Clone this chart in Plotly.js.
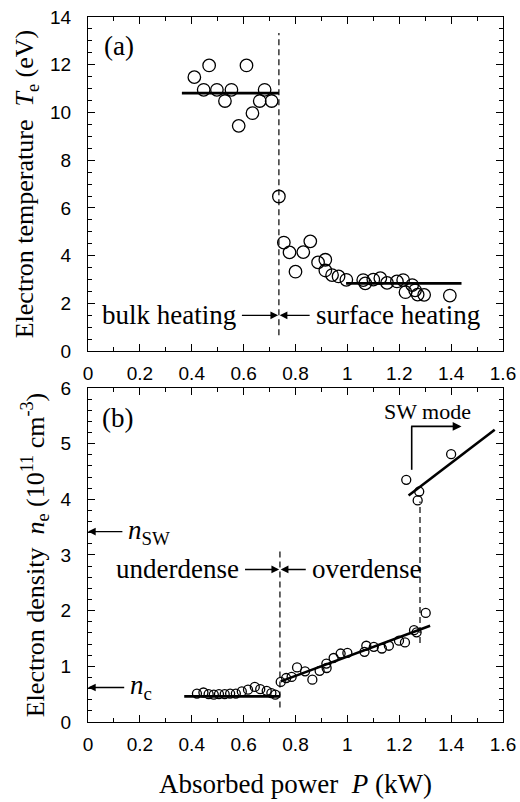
<!DOCTYPE html>
<html>
<head>
<meta charset="utf-8">
<script src="https://cdn.plot.ly/plotly-3.0.1.min.js"></script>
<style>html,body{margin:0;padding:0;background:#fff;}#chart{width:520px;height:802px;}</style>
</head>
<body>
<div id="chart"></div>
<script>
// ---- Panel (a): electron temperature vs absorbed power ----
const tempP  = [0.41, 0.446, 0.467, 0.497, 0.528, 0.553, 0.581, 0.611, 0.634, 0.662, 0.681, 0.708,
                0.736, 0.755, 0.777, 0.80, 0.83, 0.857, 0.887, 0.915, 0.915, 0.941, 0.966, 0.996,
                1.061, 1.069, 1.10, 1.127, 1.153, 1.191, 1.215, 1.224, 1.25, 1.261, 1.271, 1.296, 1.395];
const tempTe = [11.48, 10.95, 11.97, 10.95, 10.48, 10.95, 9.44, 11.97, 9.97, 10.48, 10.95, 10.48,
                6.48, 4.55, 4.14, 3.33, 4.15, 4.6, 3.72, 3.83, 3.38, 3.19, 3.13, 2.99,
                2.98, 2.84, 3.0, 3.06, 2.86, 2.92, 2.98, 2.47, 2.77, 2.55, 2.37, 2.36, 2.33];
const bulkFitP = [0.362, 0.736], bulkFitTe = [10.81, 10.81];
const surfFitP = [0.995, 1.44],  surfFitTe = [2.84, 2.84];
const transTopP = [0.736, 0.736], transTopTe = [0.67, 13.33];

// ---- Panel (b): electron density vs absorbed power ----
const densP  = [0.42, 0.445, 0.465, 0.485, 0.505, 0.527, 0.548, 0.57, 0.593, 0.617, 0.643, 0.664, 0.689, 0.707, 0.722,
                0.743, 0.764, 0.785, 0.806, 0.837, 0.865, 0.893, 0.919, 0.92, 0.947, 0.974, 1.0, 1.066, 1.073,
                1.102, 1.133, 1.16, 1.199, 1.222, 1.257, 1.267, 1.302,
                1.227, 1.271, 1.277, 1.40];
const densNe = [0.51, 0.53, 0.50, 0.49, 0.50, 0.50, 0.51, 0.51, 0.55, 0.58, 0.63, 0.59, 0.56, 0.52, 0.49,
                0.72, 0.79, 0.81, 0.98, 0.91, 0.76, 0.92, 1.05, 0.97, 1.15, 1.23, 1.24, 1.26, 1.37,
                1.35, 1.32, 1.37, 1.46, 1.43, 1.65, 1.61, 1.96,
                4.35, 3.98, 4.14, 4.81];
const underFitP = [0.371, 0.74],  underFitNe = [0.46, 0.46];
const overFitP  = [0.743, 1.319], overFitNe  = [0.73, 1.73];
const swFitP    = [1.236, 1.568], swFitNe    = [4.07, 5.25];
const trans1P = [0.74, 0.74], trans1Ne = [0.26, 3.07];
const trans2P = [1.28, 1.28], trans2Ne = [1.42, 3.96];
const nSW = 3.42, nC = 0.62;

const xTickVals = [0, 0.2, 0.4, 0.6, 0.8, 1, 1.2, 1.4, 1.6];

const SERIF = 'Liberation Serif';
const SANS = 'Liberation Sans';
const fitLine = {color: '#000', width: 2.6};
const dashLine = {color: '#000', width: 1.2, dash: '6px,4px'};

const traces = [
  {x: tempP, y: tempTe, xaxis: 'x', yaxis: 'y', mode: 'markers', type: 'scatter',
   marker: {symbol: 'circle-open', size: 12.5, color: '#000', line: {width: 1.3, color: '#000'}}},
  {x: bulkFitP, y: bulkFitTe, xaxis: 'x', yaxis: 'y', mode: 'lines', line: fitLine},
  {x: surfFitP, y: surfFitTe, xaxis: 'x', yaxis: 'y', mode: 'lines', line: fitLine},
  {x: transTopP, y: transTopTe, xaxis: 'x', yaxis: 'y', mode: 'lines', line: dashLine},

  {x: densP, y: densNe, xaxis: 'x2', yaxis: 'y2', mode: 'markers', type: 'scatter',
   marker: {symbol: 'circle-open', size: 9, color: '#000', line: {width: 1.3, color: '#000'}}},
  {x: underFitP, y: underFitNe, xaxis: 'x2', yaxis: 'y2', mode: 'lines', line: fitLine},
  {x: overFitP, y: overFitNe, xaxis: 'x2', yaxis: 'y2', mode: 'lines', line: fitLine},
  {x: swFitP, y: swFitNe, xaxis: 'x2', yaxis: 'y2', mode: 'lines', line: fitLine},
  {x: trans1P, y: trans1Ne, xaxis: 'x2', yaxis: 'y2', mode: 'lines', line: dashLine},
  {x: trans2P, y: trans2Ne, xaxis: 'x2', yaxis: 'y2', mode: 'lines', line: dashLine}
];

function axisBase(extra) {
  return Object.assign({
    showline: true, linecolor: '#000', linewidth: 1, mirror: 'allticks',
    ticks: 'inside', ticklen: 7, tickwidth: 1, tickcolor: '#000',
    showgrid: false, zeroline: false, fixedrange: true,
    tickfont: {family: SANS, size: 19, color: '#000'}
  }, extra);
}

const xCommon = {range: [0, 1.6], tickvals: xTickVals, ticklabelstandoff: 5,
  minor: {dtick: 0.1, tick0: 0, ticks: 'inside', ticklen: 4, tickcolor: '#000', showgrid: false}};

function arrowLabel(xr, yr, text, tailX, tailY, headX, headY, anchor, size) {
  return {xref: xr, yref: yr, axref: xr, ayref: yr, x: headX, y: headY, ax: tailX, ay: tailY,
    text: text, showarrow: true, arrowhead: 2, arrowsize: 1.1, arrowwidth: 1.4, arrowcolor: '#000',
    standoff: 0, startstandoff: 4, xanchor: anchor, yanchor: 'middle',
    font: {family: SERIF, size: size || 27, color: '#000'}};
}
function label(xr, yr, x, y, text, anchor, size) {
  return {xref: xr, yref: yr, x: x, y: y, text: text, showarrow: false,
    xanchor: anchor || 'center', yanchor: 'middle',
    font: {family: SERIF, size: size || 27, color: '#000'}};
}

const layout = {
  width: 520, height: 802,
  margin: {l: 88, r: 17, t: 17, b: 80},
  paper_bgcolor: '#fff', plot_bgcolor: '#fff',
  showlegend: false,
  font: {family: SERIF, color: '#000'},
  xaxis: axisBase(Object.assign({anchor: 'y', domain: [0, 1]}, xCommon)),
  yaxis: axisBase({anchor: 'x', domain: [0.526, 1], range: [0, 14], dtick: 2, tick0: 0,
    ticklabelstandoff: 12,
    minor: {dtick: 0.5, tick0: 0, ticks: 'inside', ticklen: 4, tickcolor: '#000', showgrid: false},
    title: {text: 'Electron temperature  <i>T</i><sub>e</sub> (eV)', standoff: 8,
      font: {family: SERIF, size: 26, color: '#000'}}}),
  xaxis2: axisBase(Object.assign({anchor: 'y2', domain: [0, 1],
    title: {text: 'Absorbed power  <i>P</i> (kW)', standoff: 20,
      font: {family: SERIF, size: 27, color: '#000'}}}, xCommon)),
  yaxis2: axisBase({anchor: 'x2', domain: [0, 0.4738], range: [0, 6], dtick: 1, tick0: 0,
    ticklabelstandoff: 12,
    minor: {dtick: 0.2, tick0: 0, ticks: 'inside', ticklen: 4, tickcolor: '#000', showgrid: false},
    title: {text: 'Electron density  <i>n</i><sub>e</sub> (10<sup>11</sup> cm<sup>-3</sup>)', standoff: 8,
      font: {family: SERIF, size: 26, color: '#000'}}}),
  shapes: [
    {type: 'line', xref: 'x2', yref: 'y2', x0: 1.248, x1: 1.248, y0: 4.53, y1: 5.31,
     line: {color: '#000', width: 1.6}}
  ],
  annotations: [
    label('x', 'y', 0.12, 12.8, '(a)'),
    arrowLabel('x', 'y', 'bulk heating', 0.578, 1.5, 0.733, 1.5, 'right'),
    arrowLabel('x', 'y', 'surface heating', 0.87, 1.5, 0.739, 1.5, 'left'),

    label('x2', 'y2', 0.115, 5.46, '(b)'),
    label('x2', 'y2', 1.31, 5.58, 'SW mode', 'center', 22),
    {xref: 'x2', yref: 'y2', axref: 'x2', ayref: 'y2', x: 1.44, y: 5.31, ax: 1.24, ay: 5.31,
     text: '', showarrow: true, arrowhead: 2, arrowsize: 1.1, arrowwidth: 1.6, arrowcolor: '#000',
     standoff: 0, startstandoff: 0},
    arrowLabel('x2', 'y2', 'underdense', 0.59, 2.74, 0.737, 2.74, 'right'),
    arrowLabel('x2', 'y2', 'overdense', 0.855, 2.74, 0.743, 2.74, 'left'),
    arrowLabel('x2', 'y2', '<i>n</i><sub>SW</sub>', 0.148, nSW, 0.0, nSW, 'left'),
    arrowLabel('x2', 'y2', '<i>n</i><sub>c</sub>', 0.155, nC, 0.0, nC, 'left')
  ]
};

Plotly.newPlot('chart', traces, layout, {staticPlot: true, displayModeBar: false});
</script>
</body>
</html>
